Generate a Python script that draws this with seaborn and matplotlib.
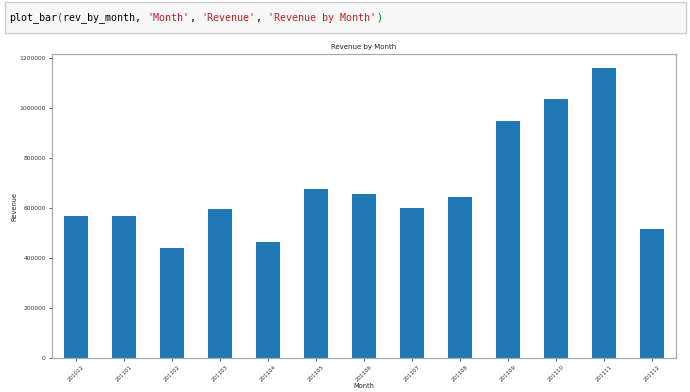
import matplotlib
matplotlib.use("Agg")
import matplotlib.pyplot as plt
import seaborn as sns
import pandas as pd
from matplotlib.patches import FancyBboxPatch

months = ["201012", "201101", "201102", "201103", "201104", "201105", "201106",
          "201107", "201108", "201109", "201110", "201111", "201112"]
revenue = [569000, 569000, 442000, 596000, 465000, 677000, 658000,
           600000, 645000, 950000, 1036000, 1160000, 517000]
yticks = [0, 200000, 400000, 600000, 800000, 1000000, 1200000]

code_segments = [("plot_bar", "#000000"), ("(", "#008000"), ("rev_by_month, ", "#000000"),
                 ("'Month'", "#ba2121"), (", ", "#000000"), ("'Revenue'", "#ba2121"),
                 (", ", "#000000"), ("'Revenue by Month'", "#ba2121"), (")", "#008000")]

sns.set_theme(style="white")
plt.rcParams['font.family'] = ['DejaVu Sans']

W, H = 690, 392
fig = plt.figure(figsize=(W / 100, H / 100), dpi=100)
fig.patch.set_facecolor("white")

# code cell box
box = FancyBboxPatch((5 / W, (H - 33) / H), 681 / W, 31 / H,
                     boxstyle="square,pad=0", transform=fig.transFigure,
                     facecolor="#f7f7f7", edgecolor="#cfcfcf", linewidth=1.0)
fig.patches.append(box)

fs = 7.2
char_w = fs * 100 / 72 * 0.602
x = 9.0
for seg, col in code_segments:
    fig.text(x / W, (H - 18) / H, seg, color=col, fontsize=fs,
             family="DejaVu Sans Mono", va="center", ha="left")
    x += len(seg) * char_w

ax = fig.add_axes([52 / W, (H - 358.3) / H, 624 / W, 304 / H])
df = pd.DataFrame({"Month": months, "Revenue": revenue})
sns.barplot(data=df, x="Month", y="Revenue", ax=ax, color="#1f77b4",
            saturation=1, width=0.5, linewidth=0)

ax.set_xlim(-0.5, len(months) - 0.5)
ax.set_ylim(0, 1216000)
ax.set_yticks(yticks)
ax.set_yticklabels([str(v) for v in yticks])
ax.tick_params(axis="both", length=2.5, width=0.6, color="#444444",
               labelcolor="#333333", pad=2, bottom=True, left=True)
ax.tick_params(axis="y", labelsize=4.3)
ax.tick_params(axis="x", labelsize=4.0, pad=1.5)
plt.setp(ax.get_xticklabels(), rotation=45, ha="center")
for s in ax.spines.values():
    s.set_visible(True)
    s.set_color("#aaaaaa")
    s.set_linewidth(0.9)

ax.set_title("Revenue by Month", fontsize=5, color="#222222", pad=4)
ax.set_xlabel("Month", fontsize=4.8, color="#222222", labelpad=0.5)
ax.set_ylabel("Revenue", fontsize=4.8, color="#222222", labelpad=1.5)

fig.savefig("out.png", dpi=100)
